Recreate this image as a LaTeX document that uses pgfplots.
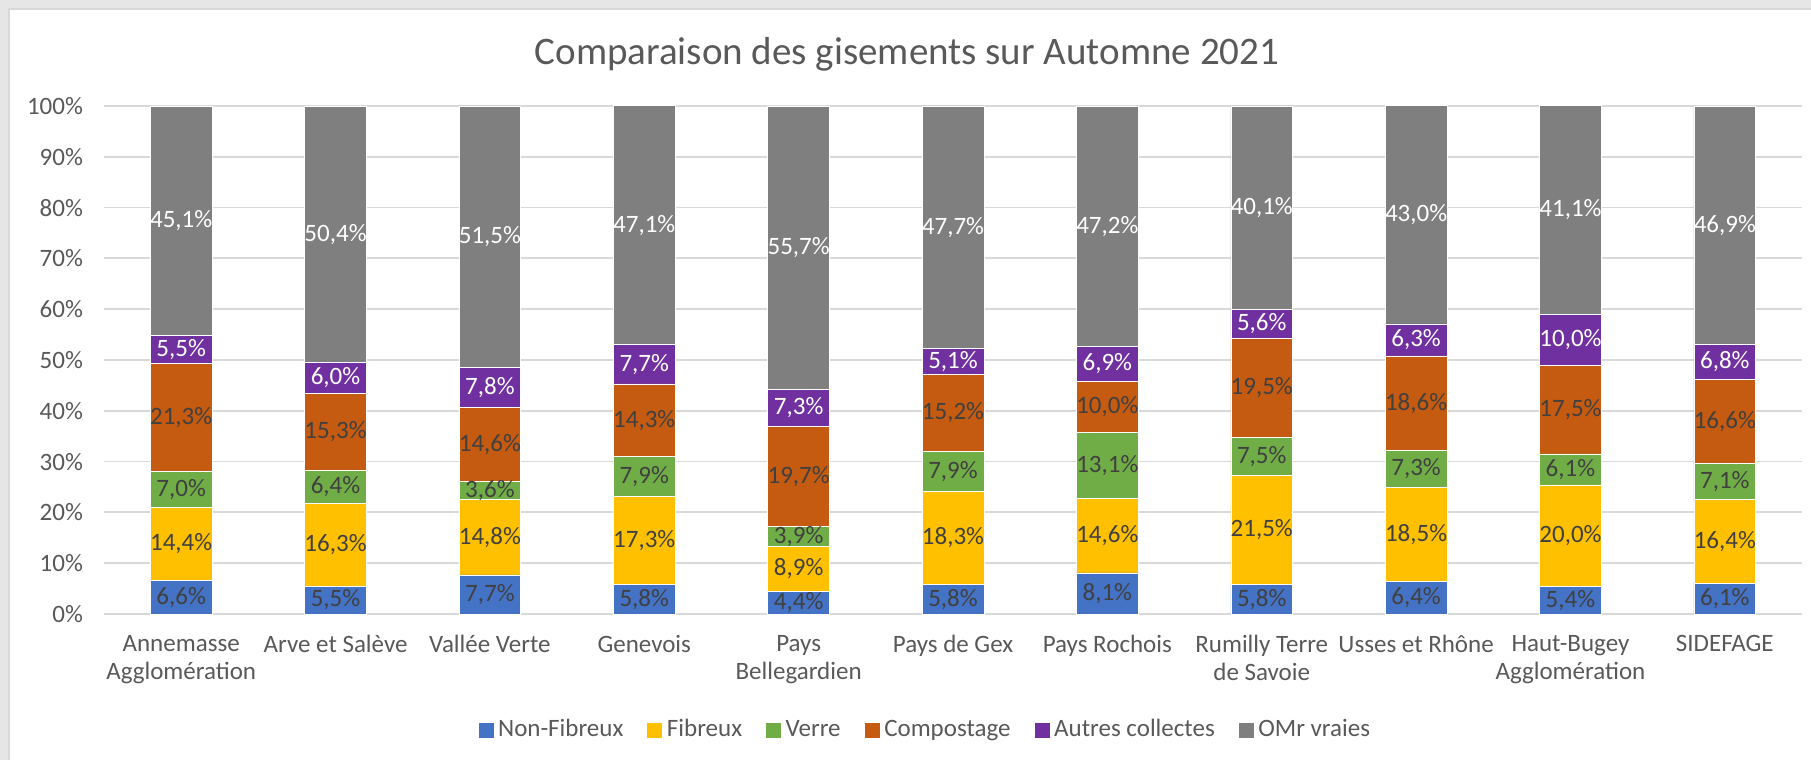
\documentclass[border=0pt]{standalone}
\usepackage{pgfplots}
\usepackage{pgfplotstable}
\pgfplotsset{compat=1.18}
\usepackage{fontspec}
\setmainfont{Carlito}
\definecolor{cNF}{HTML}{4472C4}
\definecolor{cFib}{HTML}{FFC000}
\definecolor{cVer}{HTML}{70AD47}
\definecolor{cComp}{HTML}{C55A11}
\definecolor{cAut}{HTML}{7030A0}
\definecolor{cOMr}{HTML}{7F7F7F}
\definecolor{cText}{HTML}{595959}
\definecolor{cLab}{HTML}{404040}
\definecolor{cGrid}{HTML}{D9D9D9}
\definecolor{cBand}{HTML}{E7E6E6}
\pgfplotstableread{
x nf fib verre comp autres omr
0 6.6 14.4 7.0 21.3 5.5 45.1
1 5.5 16.3 6.4 15.3 6.0 50.4
2 7.7 14.8 3.6 14.6 7.8 51.5
3 5.8 17.3 7.9 14.3 7.7 47.1
4 4.4 8.9 3.9 19.7 7.3 55.7
5 5.8 18.3 7.9 15.2 5.1 47.7
6 8.1 14.6 13.1 10.0 6.9 47.2
7 5.8 21.5 7.5 19.5 5.6 40.1
8 6.4 18.5 7.3 18.6 6.3 43.0
9 5.4 20.0 6.1 17.5 10.0 41.1
10 6.1 16.4 7.1 16.6 6.8 46.9
}\data
\begin{document}
\begin{tikzpicture}[x=1pt,y=1pt]
\path[use as bounding box] (0,0) rectangle (905.5,380);
\fill[cBand] (0,0) rectangle (905.5,380);
\fill[white] (4.5,0) rectangle (905.5,375.5);
\draw[cGrid, line width=0.6pt] (4.5,0) -- (4.5,375.5) -- (905.5,375.5);
\node[font=\fontsize{19.5}{23}\selectfont, text=cText] at (453.5,353) {Comparaison des gisements sur Automne 2021};
\begin{axis}[
  at={(52pt,73pt)}, anchor=south west,
  scale only axis, width=849pt, height=254pt,
  ybar stacked, bar width=0.4,
  xmin=-0.5, xmax=10.5, ymin=0, ymax=100,
  clip=false,
  xtick={0,...,10},
  xticklabels={{Annemasse\\Agglomération},{Arve et Salève},{Vallée Verte},{Genevois},{Pays\\Bellegardien},{Pays de Gex},{Pays Rochois},{Rumilly Terre\\de Savoie},{Usses et Rhône},{Haut-Bugey\\Agglomération},{SIDEFAGE}},
  ytick={0,10,...,100},
  yticklabels={0\%,10\%,20\%,30\%,40\%,50\%,60\%,70\%,80\%,90\%,100\%},
  major tick length=0pt,
  ymajorgrids, grid style={cGrid, line width=0.9pt},
  axis x line*=bottom, axis y line*=left,
  x axis line style={cGrid, line width=0.9pt},
  y axis line style={draw=none},
  xticklabel style={align=center, anchor=north, yshift=-7pt, font=\fontsize{12.5}{14}\selectfont, text=cText},
  yticklabel style={anchor=east, xshift=-7pt, font=\fontsize{12.5}{14}\selectfont, text=cText},
  legend style={at={(0.484,-0.228)}, anchor=center, draw=none, fill=none, legend columns=-1,
    font=\fontsize{12.5}{14}\selectfont, text=cText,
    /tikz/every even column/.append style={column sep=9.5pt}},
  legend image code/.code={\fill[#1] (0pt,-4pt) rectangle (8pt,4pt);},
  visualization depends on={rawy \as \rawy},
  nodes near coords={\pgfmathprintnumber[fixed,fixed zerofill,precision=1,use comma,assume math mode=true]{\rawy}\%},
  every node near coord/.append style={anchor=center, font=\fontsize{12.5}{14}\selectfont},
]
\addplot[fill=cNF, draw=white, line width=0.3pt, nodes near coords style={text=cLab}] table[x=x,y=nf]{\data};
\addplot[fill=cFib, draw=white, line width=0.3pt, nodes near coords style={text=cLab}] table[x=x,y=fib]{\data};
\addplot[fill=cVer, draw=white, line width=0.3pt, nodes near coords style={text=cLab}] table[x=x,y=verre]{\data};
\addplot[fill=cComp, draw=white, line width=0.3pt, nodes near coords style={text=cLab}] table[x=x,y=comp]{\data};
\addplot[fill=cAut, draw=white, line width=0.3pt, nodes near coords style={text=white}] table[x=x,y=autres]{\data};
\addplot[fill=cOMr, draw=white, line width=0.3pt, nodes near coords style={text=white}] table[x=x,y=omr]{\data};
\legend{Non-Fibreux,Fibreux,Verre,Compostage,Autres collectes,OMr vraies}
\end{axis}
\end{tikzpicture}
\end{document}
